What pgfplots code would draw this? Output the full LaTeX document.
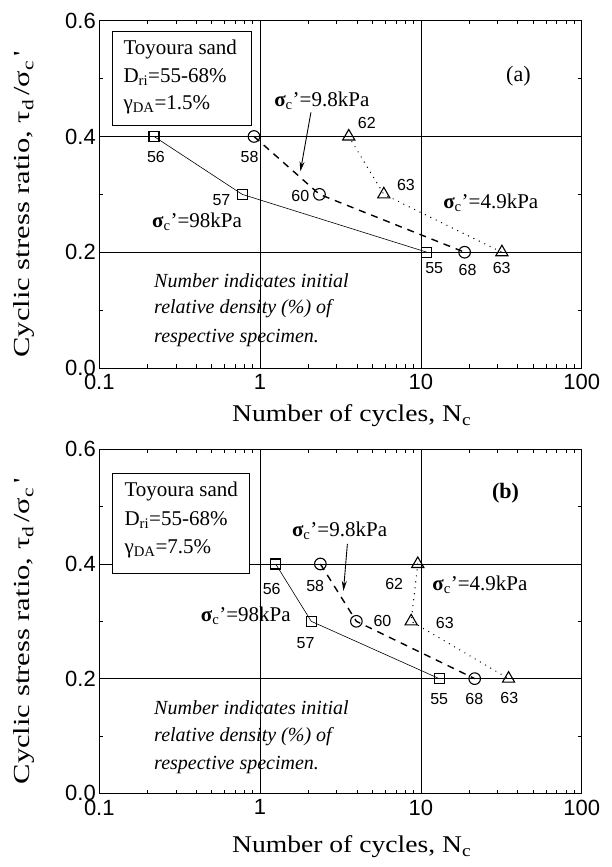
\documentclass[border=0pt]{standalone}
\usepackage{fontspec}
\setmainfont{Liberation Serif}
\setsansfont{Liberation Sans}
\newfontfamily\labfont[FakeStretch=1.15]{Liberation Serif}
\newfontfamily\ylabfont[FakeStretch=1.33]{Liberation Serif}
\usepackage{pgfplots}
\pgfplotsset{compat=1.18}
\usetikzlibrary{arrows.meta}

\newcommand{\sig}[1]{{\bfseries σ}\textsubscript{c}'#1}

\tikzset{
  sqp/.style={black, line width=0.6pt, mark=square, mark size=5pt, mark options={solid, fill=white, line width=1.1pt}},
  cip/.style={black, line width=1.4pt, dash pattern=on 7pt off 6pt, mark=o, mark size=5.8pt, mark options={solid, fill=white, line width=1.1pt}},
  trp/.style={black, line width=1.4pt, line cap=round, dash pattern=on 0pt off 6pt, mark=triangle, mark size=7pt, mark options={solid, fill=white, line width=1.1pt}},
  nnum/.style={font=\fontsize{16}{18}\sffamily},
  nsgl/.style={font=\fontsize{21}{25}\selectfont},
  nnote/.style={anchor=west, inner sep=0pt, font=\fontsize{20}{23}\itshape},
  nboxt/.style={anchor=west, font=\fontsize{21}{25}\selectfont},
}

\pgfplotsset{
  every axis/.append style={
    scale only axis, width=482.4pt,
    xmin=0.1, xmax=100, ymin=0, ymax=0.6,
    xtick={0.1,1,10,100}, xticklabels={0.1,1,10,100},
    ytick={0,0.2,0.4,0.6}, yticklabels={0.0,0.2,0.4,0.6},
    minor ytick={0.1,0.3,0.5},
    tick align=inside,
    major tick length=6pt, minor tick length=3.5pt,
    xmajorgrids, ymajorgrids,
    grid style={black, line width=0.7pt},
    axis line style={line width=0.9pt},
    tick style={black, line width=0.7pt},
    tick label style={font=\fontsize{22}{25}\sffamily},
    xticklabel style={yshift=-3pt},
    clip=false,
    xlabel={Number of cycles, N\textsubscript{c}},
    ylabel={Cyclic stress ratio, τ\textsubscript{d}\,/σ\textsubscript{c}\,'},
    xlabel style={font=\fontsize{24}{28}\labfont, anchor=base},
    ylabel style={font=\fontsize{23}{27}\ylabfont, at={(axis description cs:-0.156,0.471)}, anchor=center},
  },
}

\begin{document}
\begin{tikzpicture}
\path[use as bounding box] (0pt,0pt) rectangle (612pt,867pt);

% ---------------- (a) ----------------
\begin{semilogxaxis}[height=347.3pt, at={(99.3pt,499pt)}, anchor=south west,
  xlabel style={at={(axis description cs:0.523,-0.155)}}]
\addplot[sqp] coordinates {(0.219,0.4) (0.774,0.3) (10.9,0.2)};
\addplot[cip] coordinates {(0.916,0.4) (2.34,0.3) (18.7,0.2)};
\addplot[trp] coordinates {(3.56,0.4) (5.88,0.3) (31.9,0.2)};

\draw[line width=0.9pt, fill=white] (rel axis cs:0.028,0.698) rectangle (rel axis cs:0.315,0.968);
\node[nboxt] at (rel axis cs:0.043,0.918) {Toyoura sand};
\node[nboxt] at (rel axis cs:0.043,0.838) {D\textsubscript{ri}=55-68\%};
\node[nboxt] at (rel axis cs:0.043,0.757) {γ\textsubscript{DA}=1.5\%};

\node[font=\fontsize{22}{26}\selectfont] at (axis cs:40.4,0.504) {(a)};
\node[nsgl] at (axis cs:2.42,0.461) {\sig{=9.8kPa}};
\draw[-{Stealth[length=10pt,width=5pt]}, line width=0.9pt] (axis cs:2.07,0.4415) -- (axis cs:1.78,0.3396);
\node[nsgl] at (axis cs:27.2,0.286) {\sig{=4.9kPa}};
\node[nsgl] at (axis cs:0.405,0.252) {\sig{=98kPa}};

\node[nnote] at (axis cs:0.219,0.150) {Number indicates initial};
\node[nnote] at (axis cs:0.219,0.102) {relative density (\%) of};
\node[nnote] at (axis cs:0.219,0.051) {respective specimen.};

\node[nnum] at (axis cs:0.225,0.364) {56};
\node[nnum] at (axis cs:0.861,0.365) {58};
\node[nnum] at (axis cs:0.575,0.290) {57};
\node[nnum] at (axis cs:1.78,0.297) {60};
\node[nnum] at (axis cs:4.61,0.424) {62};
\node[nnum] at (axis cs:8.07,0.317) {63};
\node[nnum] at (axis cs:12.1,0.172) {55};
\node[nnum] at (axis cs:19.5,0.170) {68};
\node[nnum] at (axis cs:31.8,0.173) {63};
\end{semilogxaxis}

% ---------------- (b) ----------------
\begin{semilogxaxis}[height=344pt, at={(99.3pt,73.7pt)}, anchor=south west,
  xlabel style={at={(axis description cs:0.523,-0.172)}}]
\addplot[sqp] coordinates {(1.25,0.4) (2.08,0.3) (13.0,0.2)};
\addplot[cip] coordinates {(2.37,0.4) (3.97,0.3) (21.6,0.2)};
\addplot[trp] coordinates {(9.56,0.4) (8.7,0.3) (35.1,0.2)};

\draw[line width=0.9pt, fill=white] (rel axis cs:0.028,0.640) rectangle (rel axis cs:0.312,0.930);
\node[nboxt] at (rel axis cs:0.045,0.876) {Toyoura sand};
\node[nboxt] at (rel axis cs:0.045,0.794) {D\textsubscript{ri}=55-68\%};
\node[nboxt] at (rel axis cs:0.045,0.712) {γ\textsubscript{DA}=7.5\%};

\node[font=\fontsize{22}{26}\bfseries] at (axis cs:33.6,0.523) {(b)};
\node[nsgl] at (axis cs:3.12,0.458) {\sig{=9.8kPa}};
\draw[-{Stealth[length=10pt,width=5pt]}, line width=0.9pt] (axis cs:3.49,0.435) -- (axis cs:3.30,0.353);
\node[nsgl] at (axis cs:23.3,0.364) {\sig{=4.9kPa}};
\node[nsgl] at (axis cs:0.815,0.310) {\sig{=98kPa}};

\node[nnote] at (axis cs:0.219,0.149) {Number indicates initial};
\node[nnote] at (axis cs:0.219,0.099) {relative density (\%) of};
\node[nnote] at (axis cs:0.219,0.049) {respective specimen.};

\node[nnum] at (axis cs:1.18,0.357) {56};
\node[nnum] at (axis cs:2.20,0.361) {58};
\node[nnum] at (axis cs:6.82,0.365) {62};
\node[nnum] at (axis cs:1.92,0.262) {57};
\node[nnum] at (axis cs:5.77,0.301) {60};
\node[nnum] at (axis cs:14.1,0.297) {63};
\node[nnum] at (axis cs:13.0,0.165) {55};
\node[nnum] at (axis cs:21.5,0.165) {68};
\node[nnum] at (axis cs:35.5,0.166) {63};
\end{semilogxaxis}
\end{tikzpicture}
\end{document}
